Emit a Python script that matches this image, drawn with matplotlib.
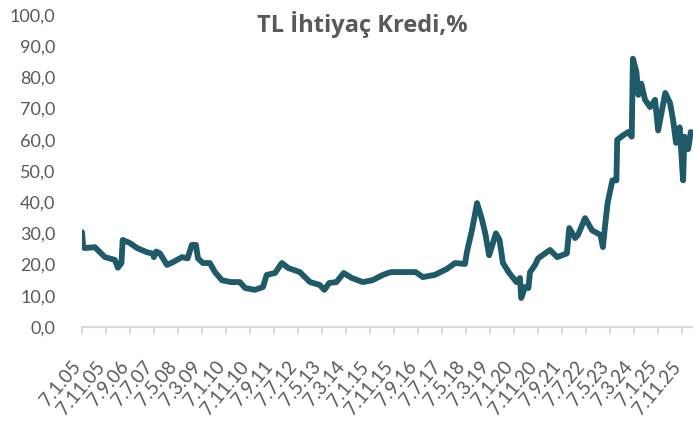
import numpy as np
import pandas as pd
import matplotlib.pyplot as plt

# okunan değerler (tarih, %)
dates = ["2005-01-07", "2005-01-21", "2005-02-07", "2005-06-18", "2005-10-25",
         "2006-02-28", "2006-04-07", "2006-05-22", "2006-06-07", "2006-09-07",
         "2006-12-07", "2007-04-07", "2007-06-25", "2007-07-07", "2007-08-07",
         "2007-09-22", "2007-12-20", "2008-03-07", "2008-06-28", "2008-09-07",
         "2008-10-30", "2008-12-22", "2009-01-16", "2009-03-20", "2009-06-16",
         "2009-08-20", "2009-11-16", "2010-03-07", "2010-07-01", "2010-09-07",
         "2011-01-07", "2011-04-20", "2011-06-07", "2011-09-20", "2011-12-16",
         "2012-03-07", "2012-07-31", "2012-12-07", "2013-04-07", "2013-06-07",
         "2013-08-07", "2013-11-07", "2014-02-07", "2014-05-22", "2014-10-07",
         "2015-02-07", "2015-06-19", "2015-08-22", "2015-10-07", "2016-03-25",
         "2016-08-07", "2016-11-07", "2017-04-07", "2017-09-07", "2017-12-20",
         "2018-04-25", "2018-05-19", "2018-07-22", "2018-09-25", "2018-11-28",
         "2019-01-07", "2019-02-25", "2019-04-07", "2019-05-22", "2019-07-07",
         "2019-08-19", "2019-11-07", "2020-02-07", "2020-03-22", "2020-04-07",
         "2020-05-25", "2020-07-07", "2020-07-28", "2020-09-30", "2020-11-07",
         "2021-04-07", "2021-07-07", "2021-11-07", "2021-12-07", "2022-02-19",
         "2022-03-28", "2022-06-25", "2022-09-22", "2023-01-07", "2023-02-07",
         "2023-03-07", "2023-04-07", "2023-06-07", "2023-07-28", "2023-08-07",
         "2023-10-25", "2023-12-25", "2024-02-07", "2024-02-22", "2024-04-07",
         "2024-05-01", "2024-06-07", "2024-07-25", "2024-09-28", "2024-11-29",
         "2025-01-07", "2025-04-07", "2025-06-07", "2025-07-16", "2025-08-22",
         "2025-10-07", "2025-11-19", "2025-12-07", "2026-01-22", "2026-02-25"]
values = [30.4, 26.0, 25.3, 25.6, 22.4,
          21.5, 19.0, 20.5, 27.9, 26.9,
          25.3, 24.0, 23.5, 22.4, 24.2,
          23.6, 19.9, 20.8, 22.4, 22.0,
          26.3, 26.3, 22.0, 20.5, 20.5,
          17.6, 15.0, 14.4, 14.4, 12.5,
          11.9, 12.8, 16.7, 17.3, 20.5,
          18.9, 17.6, 14.4, 13.5, 11.9,
          14.1, 14.4, 17.3, 15.7, 14.4,
          15.0, 16.7, 17.3, 17.6, 17.6,
          17.6, 16.0, 16.7, 18.6, 20.5,
          20.2, 24.0, 31.0, 39.7, 34.3,
          30.0, 23.0, 26.3, 30.0, 27.9,
          20.5, 17.3, 14.4, 15.7, 9.3,
          12.8, 12.5, 17.6, 19.9, 22.0,
          24.7, 22.4, 23.6, 31.7, 28.5,
          29.5, 34.9, 31.0, 29.5, 25.6,
          32.7, 39.7, 47.0, 47.0, 60.0,
          61.5, 62.5, 61.0, 86.0, 81.7,
          74.4, 78.0, 72.8, 70.5, 72.8,
          63.0, 75.0, 71.8, 66.3, 59.0,
          64.0, 47.0, 61.0, 57.0, 62.5]
title = "TL İhtiyaç Kredi,%"

x = pd.to_datetime(dates)

fig = plt.figure(figsize=(6.93, 4.21), dpi=100)
ax = fig.add_axes([82 / 693, 94 / 421, 1 - 82 / 693, (327 - 15) / 421])

ax.plot(x, values, color="#1F5A69", lw=4.2, solid_joinstyle="round", solid_capstyle="round")

ax.set_ylim(0, 100)
ax.set_yticks(np.arange(0, 101, 10))
ax.set_yticklabels([f"{v:.1f}".replace(".", ",") for v in range(0, 101, 10)])

# her 10 ayda bir etiket
ticks = pd.date_range("2005-01-01", "2025-12-31", freq="10MS") + pd.Timedelta(days=6)
ax.set_xticks(ticks)
ax.set_xticklabels([f"{d.day}.{d.month}.{d.strftime('%y')}" for d in ticks],
                   rotation=50, ha="right", va="baseline", rotation_mode="anchor")
ax.set_xlim(pd.Timestamp("2005-01-07"), pd.Timestamp("2026-03-25"))

for s in ["top", "right", "left"]:
    ax.spines[s].set_visible(False)
ax.spines["bottom"].set_color("#D9D9D9")
ax.spines["bottom"].set_linewidth(1.5)
ax.tick_params(axis="x", length=5, width=1.5, color="#D9D9D9", pad=24,
               labelsize=13.5, labelcolor="#595959")
ax.tick_params(axis="y", length=0, pad=19, labelsize=13, labelcolor="#595959")
for lab in ax.get_xticklabels() + ax.get_yticklabels():
    lab.set_fontfamily("Lato")

fig.text(362 / 693, 1 - 24 / 421, title, ha="center", va="center",
         fontsize=17, fontweight="bold", color="#595959", family="Open Sans")

fig.savefig("out.png", dpi=100)
